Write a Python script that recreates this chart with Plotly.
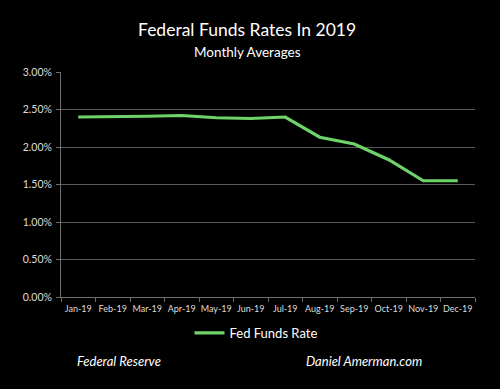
import plotly.graph_objects as go

months = ["Jan-19", "Feb-19", "Mar-19", "Apr-19", "May-19", "Jun-19",
          "Jul-19", "Aug-19", "Sep-19", "Oct-19", "Nov-19", "Dec-19"]
fed_funds = [2.40, 2.40, 2.41, 2.42, 2.39, 2.38, 2.40, 2.13, 2.04, 1.83, 1.55, 1.55]
y_ticks = [0, 0.5, 1.0, 1.5, 2.0, 2.5, 3.0]
y_tick_labels = ["0.00%", "0.50%", "1.00%", "1.50%", "2.00%", "2.50%", "3.00%"]

FONT = "Lato"
W, H = 500, 389
L, R, T, B = 61, 25, 72, 92

fig = go.Figure()
fig.add_trace(go.Scatter(
    x=months, y=fed_funds, mode="lines", name="Fed Funds Rate",
    line=dict(color="#6ed46a", width=3.2),
))

def px_x(p):
    return (p - L) / (W - L - R)

def px_y(p):
    return (H - B - p) / (H - T - B)

fig.update_layout(
    width=W, height=H,
    margin=dict(l=L, r=R, t=T, b=B, autoexpand=False),
    paper_bgcolor="black", plot_bgcolor="black",
    font=dict(family=FONT, color="#e6e6e6", size=10),
    showlegend=True,
    legend=dict(orientation="h", x=px_x(256), xanchor="center", y=px_y(333), yanchor="middle",
                font=dict(size=13, color="white", family=FONT), bgcolor="rgba(0,0,0,0)"),
    xaxis=dict(type="category", showgrid=False, showline=True, linecolor="#6e6e6e", linewidth=1,
               ticks="outside", tickson="boundaries", ticklen=4, tickcolor="#6e6e6e",
               tickangle=0, automargin=False, ticklabelstandoff=3,
               tickfont=dict(size=9, color="#dddddd"), range=[-0.5, 11.5]),
    yaxis=dict(range=[0, 3.0], tickvals=y_ticks, ticktext=y_tick_labels,
               showgrid=True, gridcolor="#5a5a5a", gridwidth=1, automargin=False,
               showline=True, linecolor="#6e6e6e", linewidth=1,
               ticks="outside", ticklen=4, tickcolor="#6e6e6e", ticklabelstandoff=2,
               tickfont=dict(size=10.5, color="#dddddd"), zeroline=False),
    annotations=[
        dict(text="Federal Funds Rates In 2019", xref="paper", yref="paper",
             x=px_x(247), y=px_y(29), xanchor="center", yanchor="middle", showarrow=False,
             font=dict(size=17.5, color="white", family=FONT)),
        dict(text="Monthly Averages", xref="paper", yref="paper",
             x=px_x(247), y=px_y(52), xanchor="center", yanchor="middle", showarrow=False,
             font=dict(size=13.5, color="white", family=FONT)),
        dict(text="<i>Federal Reserve</i>", xref="paper", yref="paper",
             x=px_x(75), y=px_y(361), xanchor="left", yanchor="middle", showarrow=False,
             font=dict(size=13, color="white", family=FONT)),
        dict(text="<i>Daniel Amerman.com</i>", xref="paper", yref="paper",
             x=px_x(304), y=px_y(361), xanchor="left", yanchor="middle", showarrow=False,
             font=dict(size=13, color="white", family=FONT)),
    ],
)

fig.write_html(
    "out.html",
    config={"displayModeBar": False},
    post_script="document.body.style.margin='0';document.body.style.background='black';",
)
